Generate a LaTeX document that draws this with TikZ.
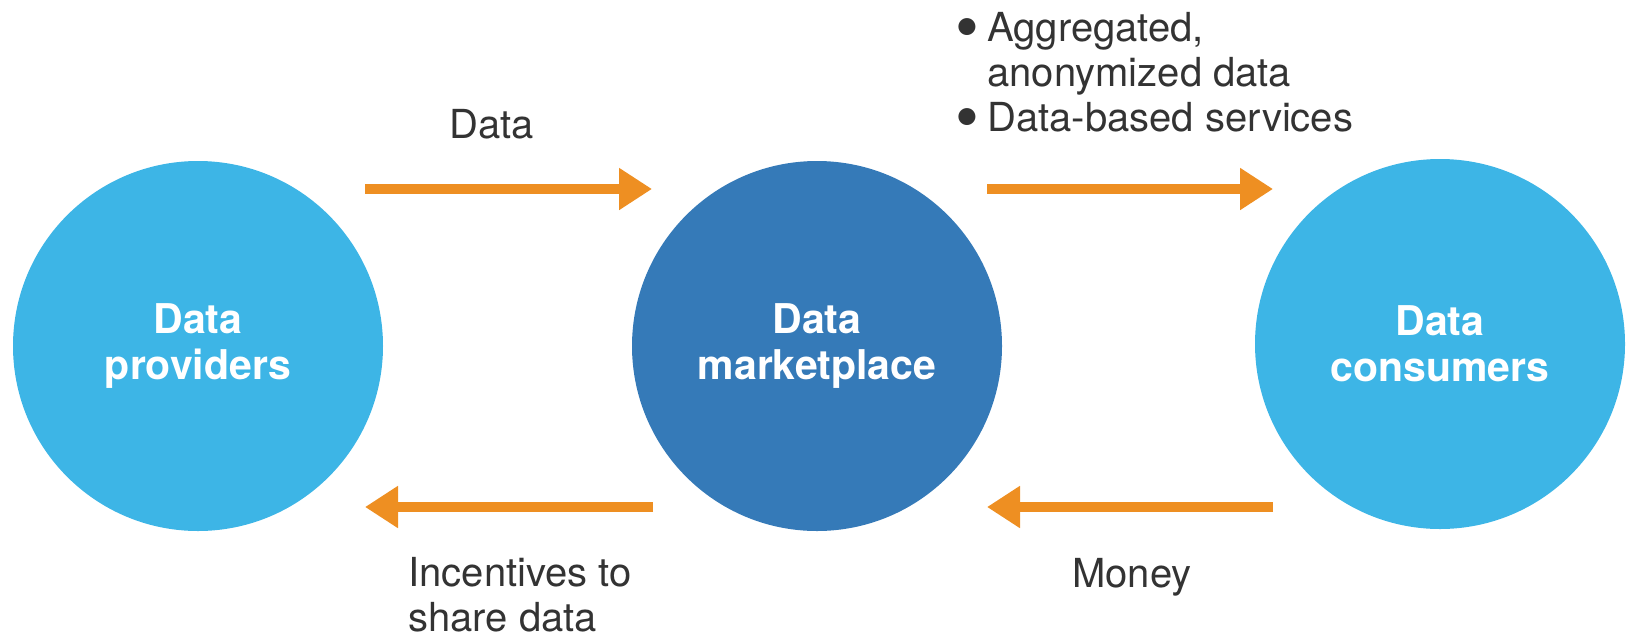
\documentclass[tikz,border=0pt]{standalone}
\usepackage{fontspec}
\setmainfont{TeX Gyre Heros}
\usetikzlibrary{arrows.meta}
\definecolor{lightblue}{HTML}{3DB5E6}
\definecolor{darkblue}{HTML}{357AB8}
\definecolor{flow}{HTML}{EE8F22}
\definecolor{txt}{HTML}{333333}
\newcommand{\bul}{\makebox[16pt][l]{\raisebox{-4.5pt}{\fontsize{34pt}{0pt}\selectfont\textbullet}}}
\begin{document}
\begin{tikzpicture}[x=0.5pt,y=-0.5pt,
  party/.style={circle,minimum size=185pt,inner sep=0pt,fill=lightblue,text=white,align=center,
    font=\fontsize{20.5pt}{23pt}\selectfont\bfseries},
  flowarrow/.style={line width=5pt,draw=flow,-{Triangle[length=16.5pt,width=20pt]}},
  lbl/.style={anchor=base west,inner sep=0pt,text=txt,align=left,font=\fontsize{20pt}{22.5pt}\selectfont}]
\useasboundingbox (0,0) rectangle (1626,638);
\node[party] (prov) at (198,346) {Data\\providers};
\node[party,fill=darkblue] (market) at (817,346) {Data\\marketplace};
\node[party] (cons) at (1440,344) {Data\\consumers};

\coordinate (a1) at (365,189);
\coordinate (a2) at (652,189);
\coordinate (b1) at (987,189);
\coordinate (b2) at (1273,189);
\coordinate (c1) at (1273,507);
\coordinate (c2) at (987,507);
\coordinate (e1) at (653,507);
\coordinate (e2) at (365,507);
\draw[flowarrow] (a1) -- (a2);
\draw[flowarrow] (b1) -- (b2);
\draw[flowarrow] (c1) -- (c2);
\draw[flowarrow] (e1) -- (e2);

\node[lbl] (datalbl) at (449,138) {Data};
\node[lbl] (offer) at (955,131) {\bul Aggregated,\\\hspace*{16pt}anonymized data\\\bul Data-based services};
\node[lbl] (incent) at (408,631) {Incentives to\\share data};
\node[lbl] (money) at (1072,587) {Money};
\end{tikzpicture}
\end{document}
